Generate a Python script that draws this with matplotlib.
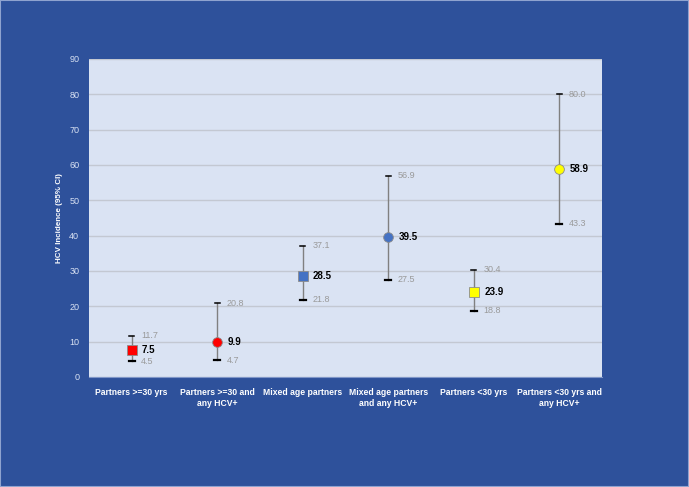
import matplotlib
matplotlib.use("Agg")
import matplotlib.pyplot as plt

# === DATOS ===
categories = ["Partners >=30 yrs", "Partners >=30 and\nany HCV+", "Mixed age partners",
              "Mixed age partners\nand any HCV+", "Partners <30 yrs", "Partners <30 yrs and\nany HCV+"]
incidence = [7.5, 9.9, 28.5, 39.5, 23.9, 58.9]
ci_low = [4.5, 4.7, 21.8, 27.5, 18.8, 43.3]
ci_high = [11.7, 20.8, 37.1, 56.9, 30.4, 80.0]
markers = ["s", "o", "s", "o", "s", "o"]
colors = ["#FF0000", "#FF0000", "#4472C4", "#4472C4", "#FFFF00", "#FFFF00"]
yticks = [0, 10, 20, 30, 40, 50, 60, 70, 80, 90]

bg = "#2E519B"
plt.rcParams['font.family'] = ['Liberation Sans', 'DejaVu Sans']

fig = plt.figure(figsize=(6.89, 4.87), dpi=100, facecolor=bg)
ax = fig.add_axes([0.129, 0.226, 0.745, 0.653])
ax.set_facecolor("#DAE3F3")

xs = list(range(len(categories)))
for x, v, lo, hi, m, c in zip(xs, incidence, ci_low, ci_high, markers, colors):
    ax.plot([x, x], [lo, hi], color="#808080", lw=1.0, zorder=2)
    ax.plot([x - 0.03, x + 0.03], [hi, hi], color="black", lw=1.1, zorder=2)
    ax.plot([x - 0.035, x + 0.035], [lo, lo], color="black", lw=1.6, zorder=2)
    ax.plot(x, v, marker=m, ms=7, color=c, mec="#8C8C8C", mew=0.6, zorder=3)
    ax.text(x + 0.12, v, f"{v:.1f}", fontsize=7, fontweight="bold", color="black",
            va="center", ha="left", zorder=4)
    ax.text(x + 0.11, hi, f"{hi:.1f}", fontsize=6.5, color="#9A9A9A",
            va="center", ha="left", zorder=4)
    ax.text(x + 0.11, lo, f"{lo:.1f}", fontsize=6.5, color="#9A9A9A",
            va="center", ha="left", zorder=4)

ax.set_xlim(-0.5, len(categories) - 0.5)
ax.set_ylim(0, 90)
ax.set_yticks(yticks)
ax.set_xticks(xs)
ax.set_xticklabels(categories, fontsize=6.2, fontweight="bold", color="white", linespacing=1.35)
ax.tick_params(axis="y", labelsize=6.5, labelcolor="#D9E2F3", length=0, pad=7)
ax.tick_params(axis="x", length=0, pad=8)
ax.grid(axis="y", color="#C3C8D2", lw=1)
ax.set_axisbelow(True)
for s in ax.spines.values():
    s.set_visible(False)
ax.spines["bottom"].set_visible(True)
ax.spines["bottom"].set_color("#7F96C8")
ax.set_ylabel("HCV Incidence (95% CI)", fontsize=5.8, fontweight="bold", color="white", labelpad=4)

fig.patches.append(plt.Rectangle((0, 0), 1, 1, transform=fig.transFigure,
                                 fill=False, edgecolor="#8FA3CF", lw=1.5))

plt.savefig("out.png", dpi=100, facecolor=bg)
